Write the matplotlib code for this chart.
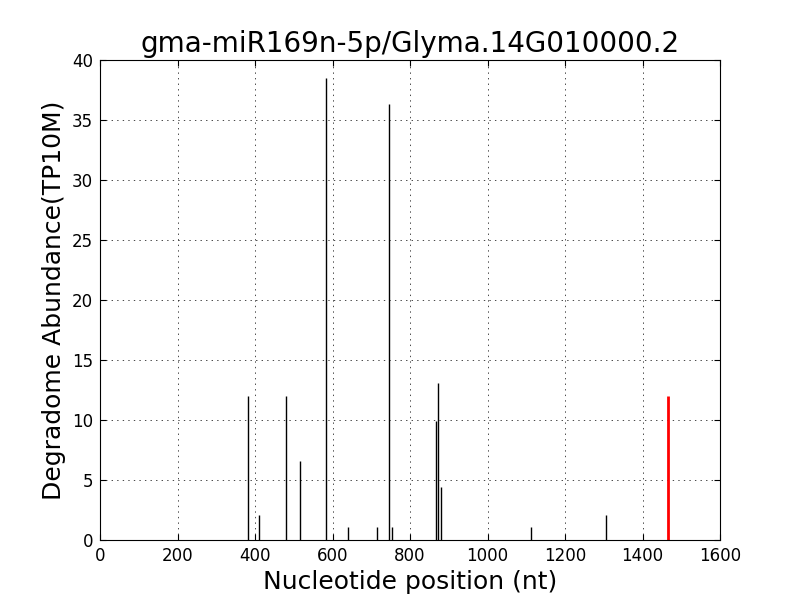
import matplotlib
matplotlib.use('Agg')
import matplotlib.pyplot as plt

positions = [383, 411, 481, 517, 584, 641, 716, 747, 754, 866, 873, 881, 1111, 1307]
abundance = [12.0, 2.1, 12.0, 6.6, 38.5, 1.1, 1.1, 36.3, 1.1, 9.9, 13.1, 4.4, 1.1, 2.1]
target_pos = [1466]
target_val = [12.0]

fig, ax = plt.subplots(figsize=(8, 6), dpi=100)
fig.subplots_adjust(left=0.125, right=0.9, bottom=0.1, top=0.9)

ax.vlines(positions, 0, abundance, colors='black', linewidth=1)
ax.vlines(target_pos, 0, target_val, colors='red', linewidth=2)

ax.set_xlim(0, 1600)
ax.set_ylim(0, 40)
ax.set_xticks(range(0, 1601, 200))
ax.set_yticks(range(0, 41, 5))
ax.tick_params(direction='in', top=True, right=True, labelsize=12, length=4, pad=5)
ax.grid(True, linestyle=(0, (2, 6)), color='black', linewidth=0.5)

ax.set_title('gma-miR169n-5p/Glyma.14G010000.2', fontsize=20)
ax.set_xlabel('Nucleotide position (nt)', fontsize=18)
ax.set_ylabel('Degradome Abundance(TP10M)', fontsize=18)

fig.savefig('out.png', dpi=100)
